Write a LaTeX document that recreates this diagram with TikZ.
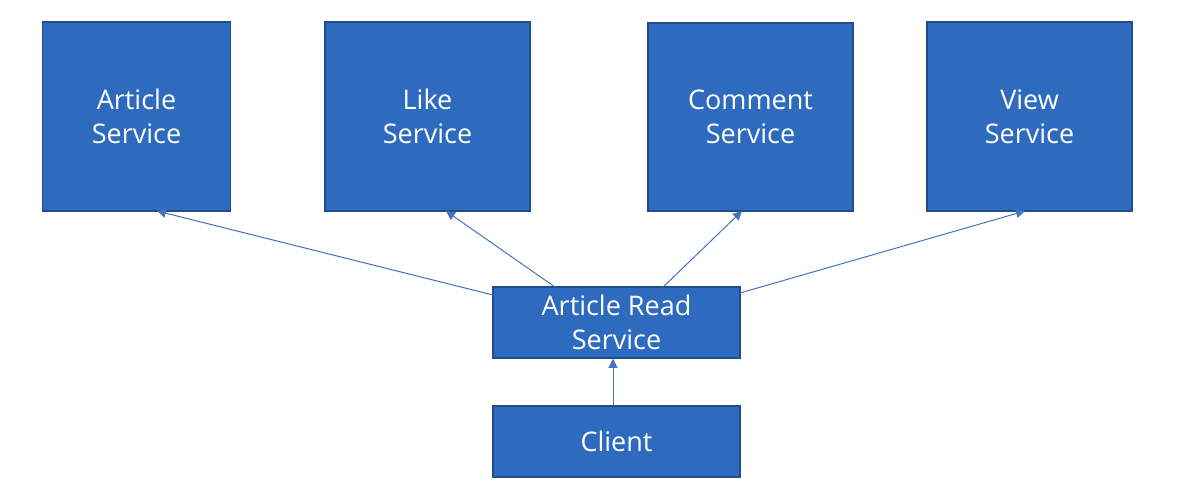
\documentclass[tikz,border=0pt]{standalone}
\usepackage{fontspec}
\setmainfont{Open Sans}
\usetikzlibrary{arrows.meta}
\definecolor{boxfill}{HTML}{2E6BBE}
\definecolor{boxline}{HTML}{1F4E8A}
\definecolor{arr}{HTML}{4472C4}
\begin{document}
\begin{tikzpicture}[x=1pt,y=-1pt,
  svc/.style={draw=boxline,line width=1.5pt,fill=boxfill,text=white,align=center,
    font=\fontsize{27}{33.5}\selectfont,inner sep=0pt},
  conn/.style={draw=arr,line width=1pt,-{Triangle[length=9pt,width=9pt]}}]
\useasboundingbox (0,0) rectangle (1181,491);
\node[svc,minimum width=188pt,minimum height=189pt] (art) at (136.5,116.5) {Article\\Service};
\node[svc,minimum width=205pt,minimum height=189pt] (like) at (427.5,116.5) {Like\\Service};
\node[svc,minimum width=205pt,minimum height=188pt] (com) at (750.5,117) {Comment\\Service};
\node[svc,minimum width=205pt,minimum height=189pt] (view) at (1029.5,116.5) {View\\Service};
\node[svc,minimum width=247pt,minimum height=71pt] (read) at (616.5,322.5) {Article Read\\Service};
\node[svc,minimum width=247pt,minimum height=71pt] (cli) at (616.5,441.5) {Client};
\coordinate (a1) at (493,295);
\coordinate (a2) at (157,211);
\coordinate (l1) at (555,287);
\coordinate (l2) at (446,211);
\coordinate (c1) at (663,287);
\coordinate (c2) at (742,211);
\coordinate (v1) at (740,293);
\coordinate (v2) at (1025,211);
\draw[conn] (a1) -- (a2);
\draw[conn] (l1) -- (l2);
\draw[conn] (c1) -- (c2);
\draw[conn] (v1) -- (v2);
\draw[conn] (cli.north -| 613,0) -- (read.south -| 613,0);
\end{tikzpicture}
\end{document}
